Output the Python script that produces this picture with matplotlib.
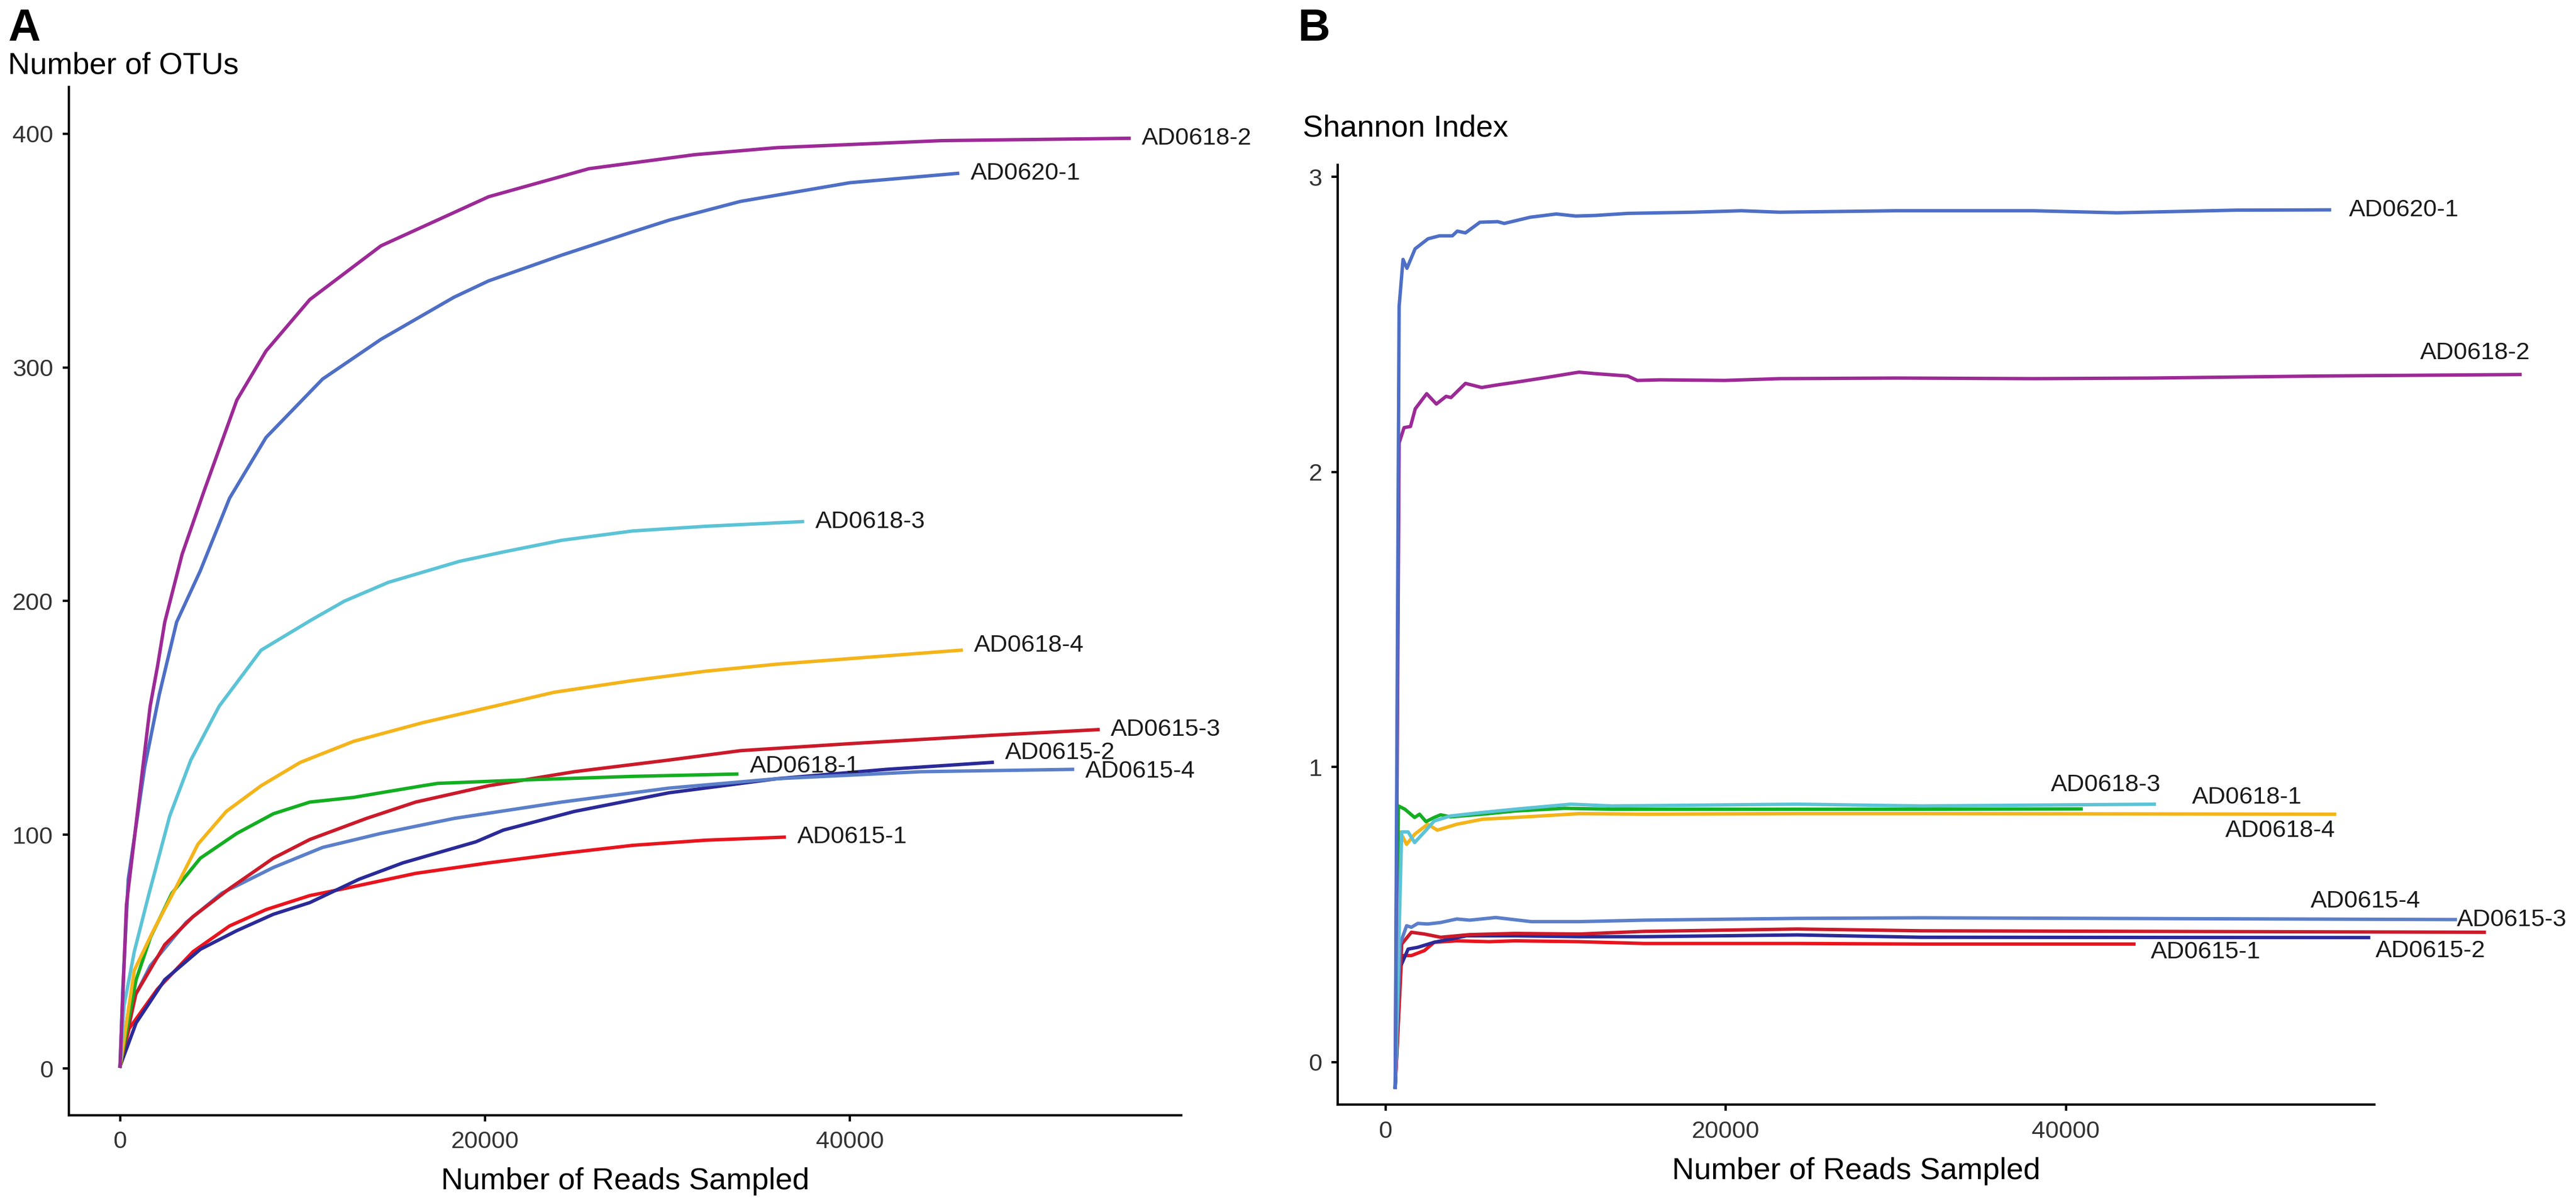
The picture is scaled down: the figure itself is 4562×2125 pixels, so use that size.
import matplotlib
matplotlib.use("Agg")
import matplotlib.pyplot as plt

plt.rcParams['font.family'] = ['Liberation Sans', 'DejaVu Sans']

# ---- panel A: rarefaction curves (reads sampled vs number of OTUs) ----
a0618_2_x = [0, 350, 1250, 1650, 2050, 2450, 3400, 4600, 6400, 8000, 10400, 14300, 20200, 25700, 31500, 36000, 45000, 55300]
a0618_2_y = [1, 70, 129, 155, 172, 191, 220, 247, 286, 307, 329, 352, 373, 385, 391, 394, 397, 398]

a0620_1_x = [0, 150, 450, 1350, 2150, 3100, 4400, 6000, 8000, 11100, 14300, 18300, 20200, 24200, 28100, 30100, 34000, 40000, 45900]
a0620_1_y = [1, 34, 81, 129, 160, 191, 213, 244, 270, 295, 312, 330, 337, 348, 358, 363, 371, 379, 383]

a0618_3_x = [0, 220, 780, 1560, 2720, 3880, 5430, 7730, 10500, 12300, 14700, 18600, 21000, 24200, 28100, 32100, 37400]
a0618_3_y = [1, 27, 50, 74, 108, 132, 155, 179, 192, 200, 208, 217, 221, 226, 230, 232, 234]

a0618_4_x = [0, 780, 1760, 3100, 4270, 5820, 7730, 9880, 12800, 16600, 20500, 23800, 28100, 32100, 36000, 46100]
a0618_4_y = [1, 42, 58, 78, 96, 110, 121, 131, 140, 148, 155, 161, 166, 170, 173, 179]

a0615_3_x = [0, 870, 2450, 4000, 6000, 8400, 10400, 13500, 16200, 20200, 24900, 30100, 34000, 40000, 47800, 53600]
a0615_3_y = [1, 32, 53, 65, 77, 90, 98, 107, 114, 121, 127, 132, 136, 139, 142.6, 145]

a0618_1_x = [0, 880, 1660, 2840, 4400, 6400, 8400, 10400, 12800, 14300, 16600, 17400, 22200, 28100, 33800]
a0618_1_y = [1, 38, 56, 75, 90, 100.6, 109, 114, 116, 118, 121, 122, 123.5, 125, 126]

a0615_4_x = [0, 490, 1660, 3620, 5570, 8400, 11100, 14300, 18300, 24200, 30100, 36000, 43900, 52200]
a0615_4_y = [1, 26, 44, 62.5, 75, 86, 94.6, 100.6, 107, 114, 120, 124, 127, 128]

a0615_2_x = [0, 880, 2450, 4400, 6400, 8400, 10400, 13100, 15500, 19500, 21000, 24900, 30100, 36000, 42000, 47800]
a0615_2_y = [1, 19.5, 38, 51, 59, 66, 71, 81, 88, 97, 102, 110, 118, 124, 128, 131]

a0615_1_x = [0, 490, 2050, 4000, 6000, 8000, 10400, 12300, 16200, 20200, 24200, 28100, 32100, 36400]
a0615_1_y = [1, 17, 34, 50, 61, 68, 74, 77, 83.5, 88, 92, 95.5, 97.7, 99]

# ---- panel B: Shannon index vs reads sampled ----
b0620_1_x = [570, 800, 1030, 1260, 1740, 2500, 3170, 3930, 4220, 4700, 5550, 6600, 6980, 8510, 10040, 11180, 12330, 14240, 18050, 20920, 23170, 30000, 38100, 43000, 50000, 55500]
b0620_1_y = [-0.085, 2.56, 2.72, 2.69, 2.756, 2.79, 2.80, 2.80, 2.816, 2.81, 2.846, 2.848, 2.842, 2.863, 2.874, 2.867, 2.869, 2.876, 2.88, 2.885, 2.88, 2.885, 2.885, 2.878, 2.887, 2.888]

b0618_2_x = [570, 800, 1090, 1470, 1750, 2420, 2990, 3560, 3850, 4700, 5650, 6600, 7560, 9460, 11370, 12330, 14240, 14800, 16140, 19950, 23170, 30000, 38100, 45000, 55000, 66700]
b0618_2_y = [-0.085, 2.098, 2.15, 2.154, 2.214, 2.265, 2.23, 2.256, 2.252, 2.30, 2.286, 2.295, 2.303, 2.32, 2.338, 2.333, 2.325, 2.31, 2.312, 2.31, 2.316, 2.318, 2.316, 2.318, 2.325, 2.33]

b0618_1_x = [570, 760, 1140, 1710, 2000, 2380, 2860, 3240, 3810, 5700, 7620, 10500, 13300, 24200, 31500, 40900]
b0618_1_y = [-0.085, 0.868, 0.857, 0.829, 0.84, 0.815, 0.829, 0.838, 0.831, 0.84, 0.851, 0.860, 0.857, 0.857, 0.857, 0.858]

b0618_3_x = [570, 950, 1330, 1710, 2290, 2860, 3810, 5700, 7620, 10900, 13300, 24200, 31500, 45200]
b0618_3_y = [-0.085, 0.78, 0.78, 0.744, 0.78, 0.817, 0.834, 0.846, 0.857, 0.874, 0.868, 0.874, 0.868, 0.874]

b0618_4_x = [570, 860, 1240, 1710, 2480, 3050, 4190, 5700, 7620, 11400, 15200, 24200, 31500, 55800]
b0618_4_y = [-0.085, 0.78, 0.738, 0.772, 0.806, 0.786, 0.806, 0.823, 0.829, 0.842, 0.84, 0.842, 0.842, 0.84]

b0615_4_x = [570, 860, 1240, 1520, 1900, 2480, 3240, 4190, 4950, 6480, 8570, 11400, 15200, 24200, 31500, 62900]
b0615_4_y = [-0.085, 0.40, 0.462, 0.457, 0.47, 0.468, 0.473, 0.485, 0.481, 0.49, 0.476, 0.476, 0.481, 0.487, 0.489, 0.483]

b0615_3_x = [570, 950, 1520, 2290, 3240, 4950, 7620, 11400, 15200, 24200, 31500, 64600]
b0615_3_y = [-0.085, 0.40, 0.44, 0.434, 0.423, 0.432, 0.436, 0.434, 0.443, 0.451, 0.445, 0.44]

b0615_2_x = [570, 860, 1330, 1900, 2860, 4760, 7620, 11400, 15200, 24200, 31500, 57800]
b0615_2_y = [-0.085, 0.321, 0.383, 0.389, 0.406, 0.428, 0.428, 0.425, 0.425, 0.431, 0.423, 0.422]

b0615_1_x = [570, 950, 1520, 2290, 2860, 4190, 6100, 7620, 11400, 15200, 24200, 31500, 44000]
b0615_1_y = [-0.085, 0.361, 0.361, 0.378, 0.406, 0.411, 0.408, 0.411, 0.408, 0.402, 0.402, 0.40, 0.40]

colors = {
    'AD0615-1': '#E8141E',
    'AD0615-2': '#2A2A98',
    'AD0615-3': '#CB1A2A',
    'AD0615-4': '#5B7FC9',
    'AD0618-1': '#14AE22',
    'AD0618-2': '#9C2A96',
    'AD0618-3': '#5CC3D6',
    'AD0618-4': '#F4B41A',
    'AD0620-1': '#4E6FC5',
}

series_a = [
    ('AD0615-1', a0615_1_x, a0615_1_y),
    ('AD0615-2', a0615_2_x, a0615_2_y),
    ('AD0615-4', a0615_4_x, a0615_4_y),
    ('AD0615-3', a0615_3_x, a0615_3_y),
    ('AD0618-1', a0618_1_x, a0618_1_y),
    ('AD0618-4', a0618_4_x, a0618_4_y),
    ('AD0618-3', a0618_3_x, a0618_3_y),
    ('AD0620-1', a0620_1_x, a0620_1_y),
    ('AD0618-2', a0618_2_x, a0618_2_y),
]
series_b = [
    ('AD0615-1', b0615_1_x, b0615_1_y),
    ('AD0615-2', b0615_2_x, b0615_2_y),
    ('AD0615-3', b0615_3_x, b0615_3_y),
    ('AD0615-4', b0615_4_x, b0615_4_y),
    ('AD0618-4', b0618_4_x, b0618_4_y),
    ('AD0618-1', b0618_1_x, b0618_1_y),
    ('AD0618-3', b0618_3_x, b0618_3_y),
    ('AD0618-2', b0618_2_x, b0618_2_y),
    ('AD0620-1', b0620_1_x, b0620_1_y),
]

# label placement relative to the end of each line: (dx reads, dy value, ha)
lab_a = {
    'AD0615-2': (700, 4.0, 'left'),
    'AD0615-4': (700, -0.8, 'left'),
    'AD0618-1': (700, 3.2, 'left'),
    'AD0618-4': (700, 2.0, 'left'),
}
lab_b = {
    'AD0620-1': (1160, 0.0, 'left'),
    'AD0618-2': (610, 0.073, 'right'),
    'AD0618-3': (370, 0.066, 'right'),
    'AD0618-1': (6520, 0.040, 'left'),
    'AD0618-4': (50, -0.055, 'right'),
    'AD0615-4': (-2040, 0.062, 'right'),
    'AD0615-3': (-1600, 0.042, 'left'),
    'AD0615-2': (400, -0.045, 'left'),
    'AD0615-1': (1000, -0.027, 'left'),
}

W, H = 4562, 2125
fig = plt.figure(figsize=(W / 300, H / 300), dpi=300)
axA = fig.add_axes([0.0267, 0.0706, 0.4318, 0.857])
axB = fig.add_axes([0.5193, 0.0795, 0.4025, 0.783])

tick_col = '#333333'
for ax in (axA, axB):
    for s in ('top', 'right'):
        ax.spines[s].set_visible(False)
    for s in ('left', 'bottom'):
        ax.spines[s].set_linewidth(1.0)
        ax.spines[s].set_color('black')
    ax.tick_params(direction='out', length=2.6, width=1.0, labelsize=10.4,
                   labelcolor=tick_col, pad=4)
    ax.set_xticks([0, 20000, 40000])
    ax.set_xlim(-2810, 58150)
    ax.set_xlabel('Number of Reads Sampled', fontsize=13, labelpad=6)

for name, xs, ys in series_a:
    axA.plot(xs, ys, color=colors[name], lw=1.45, solid_joinstyle='round')
    dx, dy, ha = lab_a.get(name, (700, 0.0, 'left'))
    axA.text(xs[-1] + dx, ys[-1] + dy, name, ha=ha, va='center',
             fontsize=10.4, color='#1a1a1a')
axA.set_ylim(-20, 420)
axA.set_yticks([0, 100, 200, 300, 400])

for name, xs, ys in series_b:
    axB.plot(xs, ys, color=colors[name], lw=1.45, solid_joinstyle='round',
             clip_on=False)
    dx, dy, ha = lab_b[name]
    axB.text(xs[-1] + dx, ys[-1] + dy, name, ha=ha, va='center',
             fontsize=10.4, color='#1a1a1a')
axB.set_ylim(-0.144, 3.04)
axB.set_yticks([0, 1, 2, 3])

fig.text(0.003, 0.976, 'A', fontsize=19, fontweight='bold', ha='left', va='center')
fig.text(0.003, 0.945, 'Number of OTUs', fontsize=13, ha='left', va='center')
fig.text(0.504, 0.976, 'B', fontsize=19, fontweight='bold', ha='left', va='center')
fig.text(0.5057, 0.893, 'Shannon Index', fontsize=13, ha='left', va='center')

fig.savefig('out.png', dpi=300, facecolor='white')
